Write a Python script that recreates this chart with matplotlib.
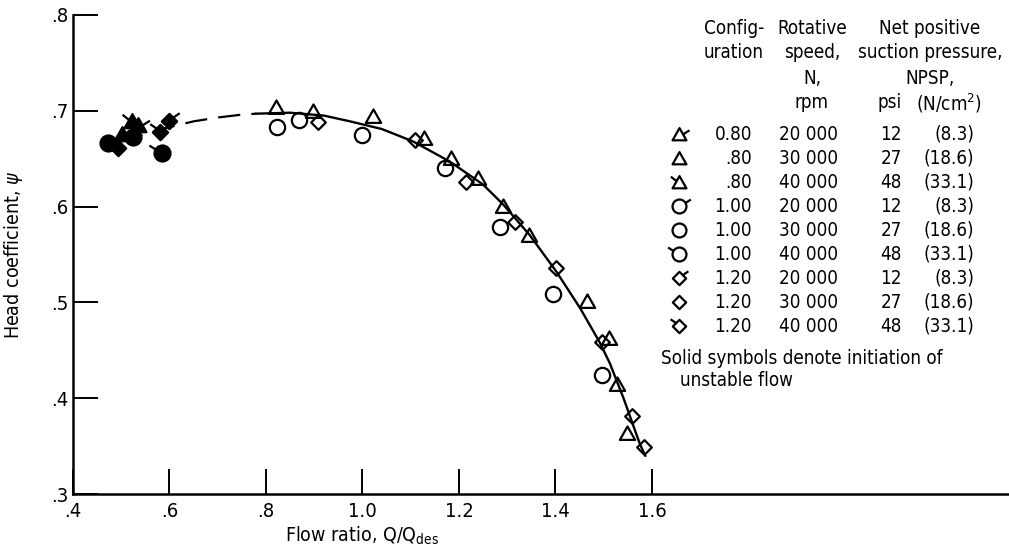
import matplotlib
matplotlib.use('Agg')
import matplotlib.pyplot as plt
from matplotlib.path import Path
import numpy as np

plt.rcParams['font.family'] = ['DejaVu Sans']
plt.rcParams['font.stretch'] = 'condensed'

# faired curve
dash_x = [0.50, 0.55, 0.60, 0.65, 0.70, 0.75, 0.78]
dash_y = [0.668, 0.676, 0.683, 0.689, 0.693, 0.696, 0.697]
curve_x = [0.78, 0.85, 0.92, 0.974, 1.04, 1.105, 1.181, 1.25, 1.292, 1.347, 1.402,
           1.451, 1.492, 1.513, 1.541, 1.575, 1.586]
curve_y = [0.697, 0.698, 0.695, 0.689, 0.681, 0.668, 0.647, 0.623, 0.602, 0.570, 0.532,
           0.494, 0.458, 0.436, 0.400, 0.352, 0.340]

# open symbols
tri_x = [0.821, 0.898, 1.021, 1.127, 1.183, 1.240, 1.292, 1.346, 1.465, 1.510, 1.527, 1.548]
tri_y = [0.704, 0.700, 0.695, 0.672, 0.651, 0.630, 0.601, 0.570, 0.501, 0.4625, 0.4145, 0.364]
circ_x = [0.823, 0.868, 0.998, 1.171, 1.285, 1.395, 1.496]
circ_y = [0.683, 0.690, 0.675, 0.640, 0.579, 0.509, 0.424]
dia_x = [0.908, 1.109, 1.215, 1.317, 1.402, 1.496, 1.558, 1.584]
dia_y = [0.688, 0.670, 0.626, 0.584, 0.536, 0.459, 0.381, 0.349]

# solid symbols (initiation of unstable flow)
solid_x = [0.473, 0.525, 0.584, 0.494, 0.580, 0.598, 0.501, 0.522, 0.535]
solid_y = [0.666, 0.673, 0.656, 0.661, 0.678, 0.689, 0.676, 0.689, 0.685]
solid_shape = ['circ', 'circ', 'circ', 'dia', 'dia', 'dia', 'tri', 'tri', 'tri']
solid_speed = [30, 30, 40, 30, 40, 20, 30, 40, 20]

# legend table
leg_shape = ['tri'] * 3 + ['circ'] * 3 + ['dia'] * 3
leg_speed = [20, 30, 40] * 3
leg_config = ['0.80', '.80', '.80', '1.00', '1.00', '1.00', '1.20', '1.20', '1.20']
leg_rpm = ['20 000', '30 000', '40 000'] * 3
leg_psi = ['12', '27', '48'] * 3
leg_ncm = ['(8.3)', '(18.6)', '(33.1)'] * 3

xticks = [0.4, 0.6, 0.8, 1.0, 1.2, 1.4, 1.6]
xticklabels = ['.4', '.6', '.8', '1.0', '1.2', '1.4', '1.6']
yticks = [0.3, 0.4, 0.5, 0.6, 0.7, 0.8]
yticklabels = ['.3', '.4', '.5', '.6', '.7', '.8']


def make_marker(shape, speed):
    verts = [(-1, -1), (1, 1)]
    codes = [Path.MOVETO, Path.MOVETO]
    if shape == 'tri':
        verts += [(-0.5, -0.42), (0.5, -0.42), (0, 0.46), (0, 0)]
        codes += [Path.MOVETO, Path.LINETO, Path.LINETO, Path.CLOSEPOLY]
        f20 = [(0.24, 0.0), (0.72, 0.3)]
        f40 = [(-0.22, 0.1), (-0.62, 0.42)]
    elif shape == 'circ':
        c = Path.circle((0, 0), 0.5)
        verts += list(c.vertices)
        codes += list(c.codes)
        f20 = [(0.43, 0.25), (0.82, 0.5)]
        f40 = [(-0.43, 0.25), (-0.82, 0.5)]
    else:
        verts += [(0, -0.48), (0.48, 0), (0, 0.48), (-0.48, 0), (0, 0)]
        codes += [Path.MOVETO, Path.LINETO, Path.LINETO, Path.LINETO, Path.CLOSEPOLY]
        f20 = [(0.24, 0.24), (0.64, 0.52)]
        f40 = [(-0.24, 0.24), (-0.64, 0.52)]
    if speed == 20:
        verts += f20
        codes += [Path.MOVETO, Path.LINETO]
    elif speed == 40:
        verts += f40
        codes += [Path.MOVETO, Path.LINETO]
    return Path(verts, codes)


MS = 22
MEW = 1.6

fig = plt.figure(figsize=(10.09, 5.51), dpi=100)
W, H = 1009.0, 551.0
ax = fig.add_axes([73 / W, (H - 494) / H, (W - 73) / W, (494 - 15) / H])
ax.set_xlim(0.4, 0.4 + (W - 73) / 482.5)
ax.set_ylim(0.3, 0.8)

ax.plot(dash_x, dash_y, color='black', lw=1.6, linestyle=(0, (10, 5)), zorder=2)
ax.plot(curve_x, curve_y, color='black', lw=1.7, zorder=2)

for xs, ys, sh in [(tri_x, tri_y, 'tri'), (circ_x, circ_y, 'circ'), (dia_x, dia_y, 'dia')]:
    ax.plot(xs, ys, linestyle='none', marker=make_marker(sh, 30), ms=MS,
            mfc='none', mec='black', mew=MEW, zorder=3, clip_on=False)

for x, y, sh, sp in zip(solid_x, solid_y, solid_shape, solid_speed):
    ax.plot([x], [y], linestyle='none', marker=make_marker(sh, sp), ms=MS + 1,
            mfc='black', mec='black', mew=MEW, zorder=3, clip_on=False)

for s in ['top', 'right']:
    ax.spines[s].set_visible(False)
for s in ['left', 'bottom']:
    ax.spines[s].set_linewidth(1.8)

ax.set_xticks(xticks)
ax.set_xticklabels(xticklabels)
ax.set_yticks(yticks)
ax.set_yticklabels(yticklabels)
ax.tick_params(direction='in', length=18, width=1.4, labelsize=14.5)
ax.tick_params(axis='x', pad=6)
ax.tick_params(axis='y', pad=3)

ax.set_ylabel('Head coefficient, $\\psi$', fontsize=14)
ax.yaxis.set_label_coords(-48 / 936, 0.5)
ax.annotate('Flow ratio, Q/Q$_\\mathregular{des}$', xy=(1.0, 0), xycoords=('data', 'axes fraction'),
            xytext=(0, -22), textcoords='offset points', ha='center', va='top', fontsize=14)

# legend table, placed in pixel coordinates
lax = fig.add_axes([0, 0, 1, 1], zorder=5)
lax.set_xlim(0, W)
lax.set_ylim(H, 0)
lax.axis('off')
lax.patch.set_alpha(0)

fs = 13.5
head = [
    (734, ['Config-', 'uration']),
    (812, ['Rotative', 'speed,', 'N,', 'rpm']),
    (930, ['Net positive', 'suction pressure,', 'NPSP,']),
]
for cx, lines in head:
    for k, t in enumerate(lines):
        lax.text(cx, 28 + k * 25, t, ha='center', va='center', fontsize=fs)
lax.text(890, 103, 'psi', ha='center', va='center', fontsize=fs)
lax.text(949, 103, '(N/cm$^\\mathregular{2}$)', ha='center', va='center', fontsize=fs)

y0, dy = 134, 24
for i in range(9):
    yy = y0 + i * dy
    lax.plot([679], [yy], linestyle='none', marker=make_marker(leg_shape[i], leg_speed[i]),
             ms=MS - 2, mfc='none', mec='black', mew=MEW)
    lax.text(752, yy, leg_config[i], ha='right', va='center', fontsize=fs)
    lax.text(838, yy, leg_rpm[i], ha='right', va='center', fontsize=fs)
    lax.text(902, yy, leg_psi[i], ha='right', va='center', fontsize=fs)
    lax.text(974, yy, leg_ncm[i], ha='right', va='center', fontsize=fs)

lax.text(661, 358, 'Solid symbols denote initiation of', ha='left', va='center', fontsize=fs)
lax.text(680, 381, 'unstable flow', ha='left', va='center', fontsize=fs)

fig.savefig('out.png', dpi=100)
